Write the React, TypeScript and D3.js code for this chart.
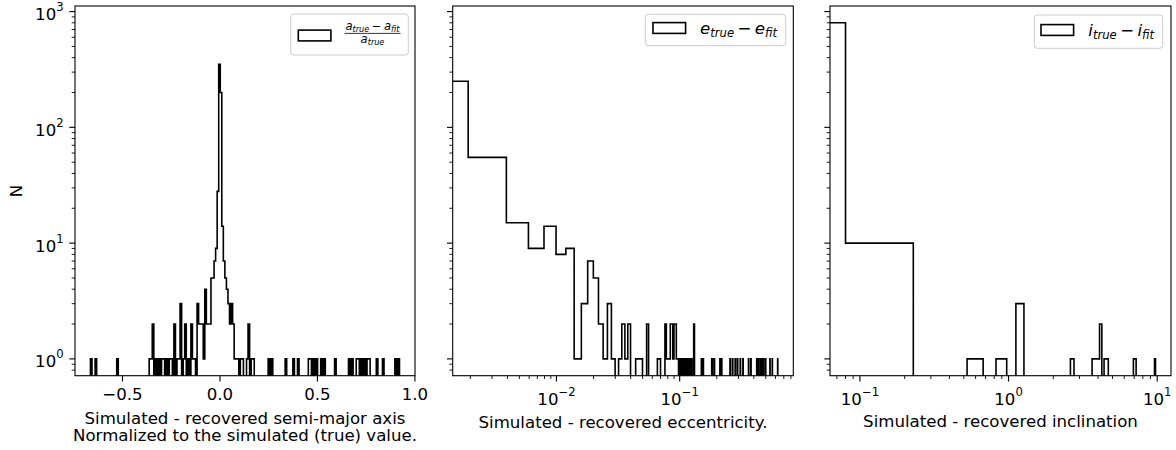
import React from "react";
import * as d3 from "d3";

// (a_true - a_fit) / a_true : linear bins, [bin index, count] for non-empty bins
const semiStart = -0.6643;
const semiWidth = 0.007926;
const semiBinTotal = 200;
const semiBinCounts: [number, number][] = [
  [0, 1], [3, 1], [17, 1], [38, 1], [39, 1], [40, 2], [42, 1], [44, 1], [46, 1], [47, 1],
  [49, 1], [51, 1], [52, 1], [54, 2], [56, 1], [57, 1], [58, 3], [60, 1], [61, 2], [63, 1],
  [65, 2], [66, 1], [67, 1], [69, 3], [70, 2], [71, 2],
  [72, 2], [73, 1], [74, 4], [75, 2], [76, 2], [77, 2], [78, 5], [79, 5], [80, 7], [81, 9],
  [82, 28], [83, 350], [84, 200], [85, 14], [86, 7], [87, 5], [88, 4], [89, 3], [90, 2], [91, 3],
  [92, 2], [93, 1], [94, 1], [95, 1], [97, 1], [98, 1], [101, 1], [102, 2], [104, 1], [105, 1],
  [115, 1], [117, 1], [126, 1], [131, 1], [134, 1], [141, 1], [142, 1], [144, 1], [146, 1], [149, 1],
  [151, 1], [158, 1], [167, 1], [169, 1], [172, 1], [173, 1], [175, 1], [177, 1], [179, 1], [180, 1],
  [185, 1], [189, 1], [197, 1], [199, 1],
];

// e_true - e_fit
const eccStart = -0.00008;
const eccWidth = 0.002;
const eccBinTotal = 313;
const eccBinCounts: [number, number][] = [
  [0, 250], [1, 55], [2, 15], [3, 9], [4, 14], [5, 8], [6, 9], [7, 1], [8, 3], [9, 7],
  [10, 5], [11, 2], [12, 1], [13, 3], [14, 1], [16, 1], [17, 2], [18, 1], [19, 2], [22, 1],
  [23, 1], [24, 1], [27, 2], [33, 1], [34, 1], [38, 2], [39, 1], [40, 1], [41, 1], [42, 2],
  [43, 2], [44, 1], [45, 2], [46, 2], [47, 1], [48, 1], [50, 1], [52, 1], [54, 1], [56, 1],
  [58, 1], [60, 1], [62, 1], [65, 2], [75, 1], [77, 1], [91, 1], [95, 1], [106, 1], [109, 1],
  [128, 1], [134, 1], [141, 1], [147, 1], [155, 1], [163, 1], [181, 1], [189, 1], [211, 1], [218, 1],
  [226, 1], [233, 1], [240, 1], [249, 1], [270, 1], [282, 1], [312, 1],
];

// i_true - i_fit
const incStart = -0.0686;
const incWidth = 0.1486;
const incBinTotal = 66;
const incBinCounts: [number, number][] = [
  [0, 800], [1, 10], [4, 1], [6, 1], [8, 3], [18, 1], [25, 1], [26, 1], [27, 1], [28, 2],
  [30, 1], [31, 1], [47, 1], [48, 1], [65, 1],
];

const semiTicks = [-0.5, 0, 0.5, 1.0];
const semiTickLabels = ["\u22120.5", "0.0", "0.5", "1.0"];
const yMajorExps = [0, 1, 2, 3];

const W = 1176;
const H = 450;
const TOP = 6;
const BOTTOM = 375.7;
const FONT = "DejaVu Sans, sans-serif";
const FS = 16.6;
const FS_SUP = 11.6;
const MAJOR = 5.7;
const MINOR = 3.3;

const yScale = d3.scaleLog().domain([Math.pow(10, -0.14515), Math.pow(10, 3.04825)]).range([BOTTOM, TOP]);

function fullCounts(total: number, pairs: [number, number][]) {
  const arr = new Array(total).fill(0);
  pairs.forEach(([i, c]) => (arr[i] = c));
  return arr;
}

function stepPath(
  counts: number[],
  start: number,
  width: number,
  x: (v: number) => number,
  log: boolean,
  left: number
) {
  const px = (e: number) => (log && e <= 0 ? left - 40 : x(e));
  const py = (c: number) => (c > 0 ? yScale(c) : BOTTOM + 40);
  const pts: [number, number][] = [[px(start), py(0)]];
  counts.forEach((c, i) => {
    const e0 = start + i * width;
    pts.push([px(e0), py(c)]);
    pts.push([px(e0 + width), py(c)]);
  });
  pts.push([px(start + counts.length * width), py(0)]);
  return d3.line()(pts) || "";
}

function logMinor(domain: number[]) {
  const out: { v: number; major: boolean; exp: number }[] = [];
  const lo = Math.floor(Math.log10(domain[0]));
  const hi = Math.ceil(Math.log10(domain[1]));
  for (let d = lo; d <= hi; d++) {
    for (let m = 1; m <= 9; m++) {
      const v = m * Math.pow(10, d);
      if (v >= domain[0] * 0.9999 && v <= domain[1] * 1.0001) out.push({ v, major: m === 1, exp: d });
    }
  }
  return out;
}

const expText = (e: number) => (e < 0 ? "\u2212" + Math.abs(e) : String(e));

function Pow10({ x, y, exp, anchor }: { x: number; y: number; exp: number; anchor: string }) {
  return (
    <text x={x} y={y} textAnchor={anchor} fontSize={FS} fontFamily={FONT} fill="#000">
      10
      <tspan dy={-9} fontSize={FS_SUP}>
        {expText(exp)}
      </tspan>
    </text>
  );
}

// Sub-scripted italic math term such as e_true
function MathTerm({ sym, sub, size, dx = 0 }: { sym: string; sub: string; size: number; dx?: number }) {
  return (
    <>
      <tspan fontStyle="italic" fontSize={size} dx={dx}>
        {sym}
      </tspan>
      <tspan fontStyle="italic" fontSize={size * 0.7} dy={size * 0.2}>
        {sub}
      </tspan>
    </>
  );
}

function LegendFrame({ x0, x1, y0, y1 }: { x0: number; x1: number; y0: number; y1: number }) {
  return (
    <rect x={x0} y={y0} width={x1 - x0} height={y1 - y0} rx={3} ry={3} fill="#fff" fillOpacity={0.8} stroke="#cccccc" strokeWidth={1} />
  );
}

function Handle({ x, yc }: { x: number; yc: number }) {
  return <rect x={x} y={yc - 5.4} width={32.6} height={10.8} fill="none" stroke="#000" strokeWidth={1.6} />;
}

export default function App() {
  const panels = [
    {
      id: "semi",
      left: 75,
      right: 415,
      log: false,
      domain: [-0.7436, 1.0005],
      counts: fullCounts(semiBinTotal, semiBinCounts),
      start: semiStart,
      width: semiWidth,
    },
    {
      id: "ecc",
      left: 452.7,
      right: 793.3,
      log: true,
      domain: [0.001438, 0.8361],
      counts: fullCounts(eccBinTotal, eccBinCounts),
      start: eccStart,
      width: eccWidth,
    },
    {
      id: "inc",
      left: 830,
      right: 1171,
      log: true,
      domain: [0.0629, 12.38],
      counts: fullCounts(incBinTotal, incBinCounts),
      start: incStart,
      width: incWidth,
    },
  ];

  const yTicks = logMinor(yScale.domain());

  return (
    <svg width={W} height={H} style={{ position: "absolute", left: 0, top: 0, background: "#fff" }} xmlns="http://www.w3.org/2000/svg">
      <rect x={0} y={0} width={W} height={H} fill="#fff" />
      <defs>
        {panels.map((p) => (
          <clipPath id={`clip-${p.id}`} key={p.id}>
            <rect x={p.left} y={TOP} width={p.right - p.left} height={BOTTOM - TOP} />
          </clipPath>
        ))}
      </defs>

      {panels.map((p) => {
        const x: any = p.log
          ? d3.scaleLog().domain(p.domain).range([p.left, p.right])
          : d3.scaleLinear().domain(p.domain).range([p.left, p.right]);
        const path = stepPath(p.counts, p.start, p.width, x, p.log, p.left);
        const xTicks = p.log ? logMinor(p.domain) : semiTicks.map((v) => ({ v, major: true, exp: 0 }));
        return (
          <g key={p.id}>
            <path d={path} fill="none" stroke="#000" strokeWidth={1.6} strokeLinejoin="miter" clipPath={`url(#clip-${p.id})`} />
            <rect x={p.left} y={TOP} width={p.right - p.left} height={BOTTOM - TOP} fill="none" stroke="#000" strokeWidth={1.1} />
            {yTicks.map((t, i) => (
              <line
                key={"y" + i}
                x1={p.left}
                x2={p.left - (t.major ? MAJOR : MINOR)}
                y1={yScale(t.v)}
                y2={yScale(t.v)}
                stroke="#000"
                strokeWidth={t.major ? 1.1 : 0.9}
              />
            ))}
            {xTicks.map((t, i) => (
              <line
                key={"x" + i}
                x1={x(t.v)}
                x2={x(t.v)}
                y1={BOTTOM}
                y2={BOTTOM + (t.major ? MAJOR : MINOR)}
                stroke="#000"
                strokeWidth={t.major ? 1.1 : 0.9}
              />
            ))}
            {p.log
              ? xTicks
                  .filter((t) => t.major)
                  .map((t, i) => <Pow10 key={"xl" + i} x={x(t.v)} y={405} exp={t.exp} anchor="middle" />)
              : semiTicks.map((v, i) => (
                  <text key={"xl" + i} x={x(v)} y={399.5} textAnchor="middle" fontSize={FS} fontFamily={FONT} fill="#000">
                    {semiTickLabels[i]}
                  </text>
                ))}
          </g>
        );
      })}

      {/* shared y axis labels on the first panel */}
      {yMajorExps.map((e) => (
        <Pow10 key={"yl" + e} x={63.6} y={yScale(Math.pow(10, e)) + 8.5} exp={e} anchor="end" />
      ))}
      <text transform="translate(21.5,191) rotate(-90)" textAnchor="middle" fontSize={FS} fontFamily={FONT} fill="#000">
        N
      </text>

      {/* axis titles */}
      <text x={245} y={424} textAnchor="middle" fontSize={FS} fontFamily={FONT} fill="#000">
        Simulated - recovered semi-major axis
      </text>
      <text x={245} y={441} textAnchor="middle" fontSize={FS} fontFamily={FONT} fill="#000">
        Normalized to the simulated (true) value.
      </text>
      <text x={623} y={427.5} textAnchor="middle" fontSize={FS} fontFamily={FONT} fill="#000">
        Simulated - recovered eccentricity.
      </text>
      <text x={1000.5} y={427} textAnchor="middle" fontSize={FS} fontFamily={FONT} fill="#000">
        Simulated - recovered inclination
      </text>

      {/* legend: semi-major axis */}
      <LegendFrame x0={290.7} x1={408.3} y0={14} y1={55} />
      <Handle x={298.3} yc={35.5} />
      <text x={372.5} y={29.5} textAnchor="middle" fontFamily={FONT} fill="#000">
        <MathTerm sym="a" sub="true" size={FS_SUP} />
        <tspan fontSize={FS_SUP} dy={-FS_SUP * 0.2} dx={2.5}>
          {"\u2212"}
        </tspan>
        <MathTerm sym="a" sub="fit" size={FS_SUP} dx={2.5} />
      </text>
      <line x1={344.5} x2={400.5} y1={33.4} y2={33.4} stroke="#000" strokeWidth={0.8} />
      <text x={372.5} y={42.5} textAnchor="middle" fontFamily={FONT} fill="#000">
        <MathTerm sym="a" sub="true" size={FS_SUP} />
      </text>

      {/* legend: eccentricity */}
      <LegendFrame x0={645.3} x1={785.7} y0={14.3} y1={45.7} />
      <Handle x={653} yc={28} />
      <text x={700} y={33.5} fontFamily={FONT} fill="#000">
        <MathTerm sym="e" sub="true" size={FS} />
        <tspan fontSize={FS} dy={-FS * 0.2} dx={3.4}>
          {"\u2212"}
        </tspan>
        <MathTerm sym="e" sub="fit" size={FS} dx={3.4} />
      </text>

      {/* legend: inclination */}
      <LegendFrame x0={1034.3} x1={1162.7} y0={15} y1={48.3} />
      <Handle x={1041} yc={30} />
      <text x={1088.3} y={35.5} fontFamily={FONT} fill="#000">
        <MathTerm sym="i" sub="true" size={FS} />
        <tspan fontSize={FS} dy={-FS * 0.2} dx={3.4}>
          {"\u2212"}
        </tspan>
        <MathTerm sym="i" sub="fit" size={FS} dx={3.4} />
      </text>
    </svg>
  );
}
